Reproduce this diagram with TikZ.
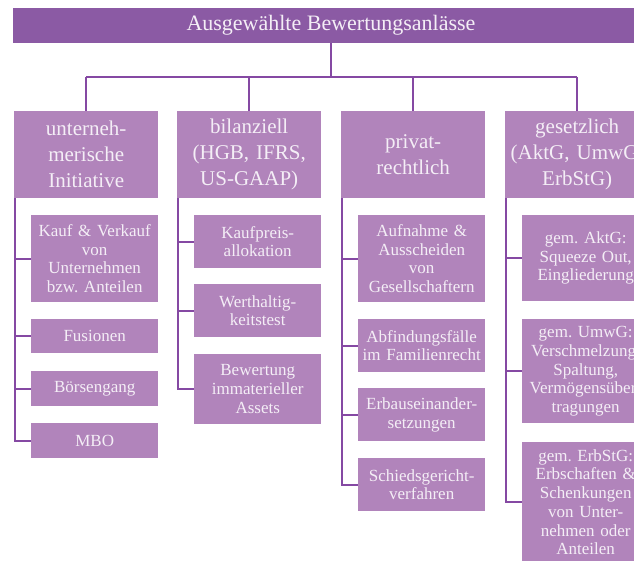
\documentclass[tikz,border=0pt]{standalone}
\usepackage{fontspec}
\setmainfont{Liberation Serif}
\frenchspacing
\definecolor{titel}{HTML}{8B5AA4}
\definecolor{kasten}{HTML}{B184BB}
\definecolor{schrift}{HTML}{F4EEF6}
\definecolor{linie}{HTML}{8549A3}

\begin{document}
\begin{tikzpicture}[x=1pt,y=-1pt,
  kopf/.style={fill=kasten,text=schrift,anchor=north west,inner sep=0pt,
    minimum width=144pt,minimum height=87pt,text width=144pt,align=center,
    font=\fontsize{21}{26}\selectfont},
  fall/.style={fill=kasten,text=schrift,anchor=north west,inner sep=0pt,
    minimum width=127pt,text width=127pt,align=center,
    font=\fontsize{17}{18.7}\selectfont},
  ast/.style={draw=linie,line width=1.6pt}]
\useasboundingbox (0,0) rectangle (634,560);
\clip (0,0) rectangle (634,560);

\node[fill=titel,text=schrift,inner sep=0pt,minimum width=636pt,minimum height=35pt,
  font=\fontsize{22}{26}\selectfont] (titel) at (331,25.5) {Ausgewählte Bewertungsanlässe};

% Kopfzeile
\node[kopf] (h1) at (14,111) {unterneh-\\merische\\Initiative};
\node[kopf] (h2) at (177,111) {bilanziell\\(HGB, IFRS,\\US-GAAP)};
\node[kopf] (h3) at (341,111) {privat-\\rechtlich};
\node[kopf] (h4) at (505,111) {gesetzlich\\(AktG, UmwG,\\ErbStG)};

\coordinate (bus) at (331,77);
\draw[ast] (titel) -- (bus);
\draw[ast] (bus -| h1) -- (bus -| h4);
\draw[ast] (bus -| h1) -- (h1.north);
\draw[ast] (bus -| h2) -- (h2.north);
\draw[ast] (bus -| h3) -- (h3.north);
\draw[ast] (bus -| h4) -- (h4.north);

% unternehmerische Initiative
\node[fall,minimum height=87pt] (a1) at (31,215) {Kauf \& Verkauf\\von\\Unternehmen\\bzw. Anteilen};
\node[fall,minimum height=34pt] (a2) at (31,319) {Fusionen};
\node[fall,minimum height=35pt] (a3) at (31,371) {Börsengang};
\node[fall,minimum height=35pt] (a4) at (31,423) {MBO};
\draw[ast] ([xshift=1pt]h1.south west) |- (a1.west);
\draw[ast] ([xshift=1pt]h1.south west) |- (a2.west);
\draw[ast] ([xshift=1pt]h1.south west) |- (a3.west);
\draw[ast] ([xshift=1pt]h1.south west) |- (a4.west);

% bilanziell
\node[fall,minimum height=53pt] (b1) at (194,215) {Kaufpreis-\\allokation};
\node[fall,minimum height=53pt] (b2) at (194,284) {Werthaltig-\\keitstest};
\node[fall,minimum height=70pt] (b3) at (194,354) {Bewertung\\immaterieller\\Assets};
\draw[ast] ([xshift=1pt]h2.south west) |- (b1.west);
\draw[ast] ([xshift=1pt]h2.south west) |- (b2.west);
\draw[ast] ([xshift=1pt]h2.south west) |- (b3.west);

% privatrechtlich
\node[fall,minimum height=87pt] (c1) at (358,215) {Aufnahme \&\\Ausscheiden\\von\\Gesellschaftern};
\node[fall,minimum height=53pt] (c2) at (358,319) {Abfindungsfälle\\im Familienrecht};
\node[fall,minimum height=53pt] (c3) at (358,388) {Erbauseinander-\\setzungen};
\node[fall,minimum height=53pt] (c4) at (358,458) {Schiedsgericht-\\verfahren};
\draw[ast] ([xshift=1pt]h3.south west) |- (c1.west);
\draw[ast] ([xshift=1pt]h3.south west) |- (c2.west);
\draw[ast] ([xshift=1pt]h3.south west) |- (c3.west);
\draw[ast] ([xshift=1pt]h3.south west) |- (c4.west);

% gesetzlich
\node[fall,minimum height=86pt] (d1) at (522,215) {gem. AktG:\\Squeeze Out,\\Eingliederung};
\node[fall,minimum height=104pt] (d2) at (522,319) {gem. UmwG:\\Verschmelzung,\\Spaltung,\\Vermögensüber-\\tragungen};
\node[fall,minimum height=120pt] (d3) at (522,442) {gem. ErbStG:\\Erbschaften \&\\Schenkungen\\von Unter-\\nehmen oder\\Anteilen};
\draw[ast] ([xshift=1pt]h4.south west) |- (d1.west);
\draw[ast] ([xshift=1pt]h4.south west) |- (d2.west);
\draw[ast] ([xshift=1pt]h4.south west) |- (d3.west);
\end{tikzpicture}
\end{document}
